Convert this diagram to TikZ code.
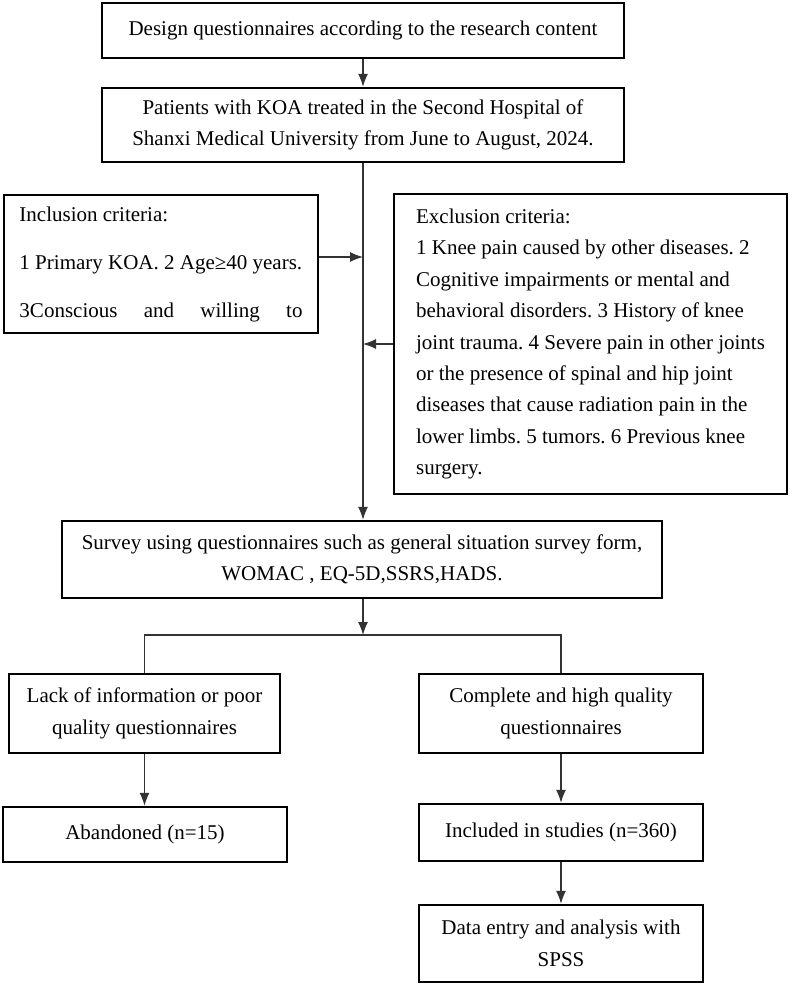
\documentclass[tikz,border=0pt]{standalone}
\usepackage{fontspec}
\setmainfont{Liberation Serif}
\usetikzlibrary{arrows.meta}
\frenchspacing

\begin{document}
\begin{tikzpicture}[x = 1pt, y = -1pt, > = {Latex[length = 13pt, width = 10pt]},
	font = \fontsize{21}{31.4}\selectfont,
	stagebox/.style = {draw, line width = 2.4pt, inner sep = 0pt, align = center},
	flow/.style = {->, line width = 1.2pt, black!80}]

	\useasboundingbox (0, 0) rectangle (789, 984);

	% Top of the chart

	\node [stagebox, minimum width = 522pt, minimum height = 55pt] (design) at (363, 30.5)
		{Design questionnaires according to the research content};
	\node [stagebox, minimum width = 522pt, minimum height = 74pt] (patients) at (363, 125)
		{Patients with KOA treated in the Second Hospital of\\
		Shanxi Medical University from June to August, 2024.};

	% Criteria

	\node [stagebox, minimum width = 314pt, minimum height = 138pt,
		align = left, font = \fontsize{21}{48}\selectfont] (incl) at (161, 264)
		{Inclusion criteria:\\
		1 Primary KOA. 2 Age≥40 years.\\
		\hbox to 283pt{3Conscious\hfill and\hfill willing\hfill to}};
	\node [stagebox, minimum width = 393pt, minimum height = 300pt,
		align = left] (excl) at (590.5, 344)
		{Exclusion criteria:\\
		1 Knee pain caused by other diseases. 2\\
		Cognitive impairments or mental and\\
		behavioral disorders. 3 History of knee\\
		joint trauma. 4 Severe pain in other joints\\
		or the presence of spinal and hip joint\\
		diseases that cause radiation pain in the\\
		lower limbs. 5 tumors. 6 Previous knee\\
		surgery.};

	% Survey

	\node [stagebox, minimum width = 600pt, minimum height = 77pt] (survey) at (362, 559.5)
		{Survey using questionnaires such as general situation survey form,\\
		WOMAC , EQ-5D,SSRS,HADS.};

	% Two branches

	\node [stagebox, minimum width = 271pt, minimum height = 79pt] (lack) at (144.5, 713.5)
		{Lack of information or poor\\ quality questionnaires};
	\node [stagebox, minimum width = 284pt, minimum height = 79pt] (complete) at (561, 713.5)
		{Complete and high quality\\ questionnaires};
	\node [stagebox, minimum width = 284pt, minimum height = 55pt] (abandoned) at (145, 834.5)
		{Abandoned (n=15)};
	\node [stagebox, minimum width = 284pt, minimum height = 57pt] (included) at (561, 832.5)
		{Included in studies (n=360)};
	\node [stagebox, minimum width = 284pt, minimum height = 77pt] (data) at (561, 943.5)
		{Data entry and analysis with\\ SPSS};

	\coordinate (split) at (363, 635);

	% Connectors

	\draw [flow] (design) -- (patients);
	\draw [flow] (patients.south) -- (patients.south |- survey.north);
	\draw [flow] ([yshift = 7pt] incl.east) -- ([yshift = 7pt] incl.east -| patients.south);
	\draw [flow] (excl.west) -- (excl.west -| patients.south);
	\draw [flow] (survey.south -| split) -- (split);
	\draw [line width = 1.2pt, black!80] (lack.north) -- (lack.north |- split)
		-- (complete.north |- split) -- (complete.north);
	\draw [flow] (lack) -- (abandoned.north -| lack.south);
	\draw [flow] (complete) -- (included);
	\draw [flow] (included) -- (data);

\end{tikzpicture}
\end{document}
